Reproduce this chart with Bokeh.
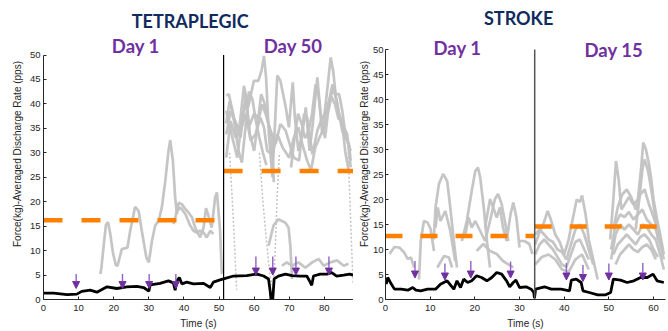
from bokeh.plotting import figure
from bokeh.layouts import row
from bokeh.models import ColumnDataSource, FixedTicker, Arrow, NormalHead, Range1d
from bokeh.core.properties import value
from bokeh.embed import file_html
from bokeh.resources import INLINE

# ------------------------------------------------------------------ data
# TETRAPLEGIC panel
tetra_split = 51.3
tetra_xmax = 88.3
tetra_avg_day1 = 16.2
tetra_avg_day50 = 26.3

tetra_force_x = [0.0, 2.9, 6.7, 9.5, 10.9, 13.3, 15.2, 18.1, 20.9, 23.7, 26.6, 28.5, 30.0, 30.4, 33.2,
                 35.6, 37.0, 37.5, 38.0, 38.7, 39.4, 40.8, 42.7, 45.6, 47.5, 48.4, 50.3, 51.3,
                 54.1, 57.9, 60.8, 62.7, 64.1, 64.6, 64.8, 65.3, 65.7, 66.9, 68.9, 70.8, 73.1, 75.0,
                 76.0, 76.4, 76.9, 78.8, 80.7, 82.1, 83.5, 85.5, 87.2, 88.2]
tetra_force_y = [1.3, 1.3, 1.0, 1.1, 1.66, 1.9, 1.5, 2.6, 2.25, 2.6, 2.7, 2.45, 1.7, 3.0, 3.3,
                 3.8, 3.4, 1.9, 3.8, 4.5, 3.2, 3.55, 3.2, 3.3, 2.45, 3.55, 4.0, 4.2,
                 4.8, 4.9, 5.2, 4.8, 4.2, 1.5, 0.0, 0.0, 4.2, 4.8, 5.2, 4.9, 4.8, 4.8,
                 3.5, 2.9, 4.8, 5.2, 5.2, 5.5, 4.8, 5.0, 5.2, 5.0]

tetra_mu_x = [
    [16.2, 16.5, 17.2, 17.8, 18.4, 19.0, 19.8, 20.6, 21.1, 22.3, 23.9, 24.7, 26.1, 27.1, 28.0, 29.3, 30.0,
     30.9, 31.8, 32.8, 33.7, 34.7, 35.6, 36.1, 36.85, 37.5, 38.0, 38.5, 39.4, 40.4, 41.3, 42.3, 43.2,
     44.6, 45.6, 46.3, 47.0, 47.9, 48.9, 49.4, 50.3, 50.8],
    [37.05, 38.0, 39.0, 40.4, 41.8, 42.7, 43.7, 44.6, 45.6, 46.5, 47.5, 48.4],
    [52.05, 52.8, 54.2, 55.7, 57.1, 58.3, 59.9, 61.2, 62.1, 62.8, 63.4, 64.2, 65.2, 66.6, 67.5, 69.0,
     69.9, 71.0, 71.6, 72.6, 73.7, 74.7, 75.8, 76.7, 78.0, 78.6, 79.4, 80.8, 81.8, 82.5, 83.2, 84.2,
     85.1, 86.1, 87.0, 87.5],
    [52.05, 53.3, 54.7, 56.1, 57.6, 58.5, 59.9, 61.4, 62.3, 63.3, 64.7, 66.1, 67.5, 69.0, 70.4, 71.3,
     72.8, 74.2, 75.1, 76.6, 78.0, 79.4, 80.8, 82.3, 83.7, 85.1, 86.5, 87.5],
    [52.05, 53.3, 54.7, 56.1, 57.6, 59.0, 60.4, 61.8, 62.8, 63.7, 65.2, 66.6, 68.1, 70.0, 71.3, 72.6,
     73.7, 75.1, 76.2, 77.4, 78.6, 80.0, 81.3, 82.8, 84.2, 85.6, 86.5, 87.5],
    [52.05, 53.8, 55.2, 56.6, 57.8, 58.8, 60.0, 61.0, 62.0, 63.0, 64.0, 65.0, 65.6],
    [52.05, 53.0, 54.0, 55.5, 56.5, 57.5, 58.5, 59.5, 60.5, 61.5, 62.5, 63.5],
    [70.5, 71.5, 72.5, 73.5, 74.5, 75.5, 76.5, 77.5, 78.3, 79.2, 80.2, 81.0, 82.0, 83.0, 84.0, 85.0,
     86.0, 87.0],
    [64.1, 65.5, 66.9, 68.9, 69.8, 70.3, 70.8],
    [67.9, 69.3, 70.8, 72.6, 74.6, 76.5, 78.4, 79.8, 81.7, 83.6, 85.5, 86.9],
]
tetra_mu_y = [
    [5.2, 6.5, 11.5, 15.3, 15.8, 13.5, 9.5, 7.0, 6.9, 10.3, 10.6, 14.05, 18.96, 18.1, 14.05, 8.6, 7.6,
     12.0, 15.1, 16.1, 18.8, 24.3, 30.4, 32.6, 28.4, 20.9, 17.5, 19.8, 19.5, 18.5, 17.8, 16.8, 14.7,
     12.7, 14.7, 18.7, 17.1, 14.7, 20.9, 21.9, 14.05, 5.2],
    [15.4, 18.1, 18.8, 17.5, 15.1, 14.05, 13.7, 14.05, 13.7, 12.7, 14.05, 13.4],
    [41.7, 42.0, 37.2, 34.5, 43.7, 39.3, 44.7, 44.7, 46.8, 49.8, 45.4, 33.8, 25.0, 45.8, 44.7, 39.3,
     35.2, 44.4, 37.2, 30.4, 33.8, 39.3, 30.4, 35.9, 45.4, 40.6, 33.8, 42.7, 49.5, 46.8, 42.0, 42.0,
     38.6, 33.1, 31.8, 28.4],
    [33.8, 38.6, 35.9, 33.1, 42.0, 35.2, 37.9, 37.2, 39.9, 37.9, 34.5, 31.8, 35.9, 34.5, 31.1, 29.0,
     28.4, 37.9, 37.2, 29.7, 34.5, 37.2, 38.6, 44.0, 39.9, 34.5, 32.5, 30.4],
    [29.0, 36.5, 33.1, 34.5, 37.9, 32.5, 33.8, 37.2, 35.2, 30.4, 29.7, 33.8, 31.1, 29.0, 33.1, 35.2,
     31.8, 28.4, 26.4, 31.1, 33.1, 35.2, 40.6, 43.4, 37.9, 35.2, 33.8, 27.0],
    [38.6, 33.1, 29.0, 37.2, 40.6, 33.8, 30.4, 35.9, 42.0, 40.0, 36.0, 33.0, 24.0],
    [36.0, 40.5, 38.0, 30.5, 28.0, 35.0, 42.5, 41.0, 36.5, 33.0, 30.0, 27.5],
    [27.0, 33.0, 38.0, 36.0, 33.0, 34.5, 38.0, 44.0, 42.0, 36.0, 33.0, 38.0, 41.5, 40.0, 37.0, 36.5,
     30.0, 26.0],
    [11.0, 15.1, 16.4, 15.7, 14.7, 11.0, 4.2],
    [6.9, 7.6, 6.9, 7.6, 6.5, 7.6, 8.3, 6.9, 7.6, 8.0, 6.9, 7.3],
]
tetra_dot_x = [[53.0, 53.8, 54.5, 55.0], [61.5, 62.5, 63.5, 64.5, 65.0],
               [65.5, 66.0, 66.5, 67.2], [86.8, 87.3, 87.8, 88.2]]
tetra_dot_y = [[30.0, 20.0, 10.0, 2.0], [30.0, 20.0, 12.0, 5.0, 3.0],
               [3.0, 10.0, 20.0, 30.0], [30.0, 20.0, 10.0, 3.0]]

tetra_arrow_x = [9.3, 22.5, 30.1, 37.7, 60.5, 65.3, 71.9, 81.3]
tetra_arrow_top = [5.2, 5.2, 5.2, 5.2, 8.8, 8.8, 8.8, 8.8]
tetra_arrow_tip = [2.25, 2.25, 2.25, 2.25, 5.0, 5.0, 5.0, 5.0]

# STROKE panel
stroke_split = 33.4
stroke_xmax = 62.68
stroke_avg_day1 = 12.7
stroke_avg_day15 = 14.6

stroke_force_x = [0.16, 0.5, 1.1, 2.0, 3.5, 5.0, 6.1, 6.8, 7.9, 9.4, 11.2, 12.3, 13.8, 14.7, 15.3, 16.0,
                  16.8, 17.5, 18.4, 19.3, 20.4, 21.5, 22.7, 23.8, 24.9, 26.0, 27.1, 27.8, 28.6, 29.2,
                  30.0, 31.5, 32.6, 33.2, 33.35, 33.6, 35.6, 37.1, 39.3, 41.2, 41.6, 42.7, 43.8, 44.2,
                  45.6, 47.5, 49.3, 50.4, 51.0, 52.6, 54.1, 55.6, 57.1, 58.6, 59.9, 60.8, 62.3]
stroke_force_y = [3.07, 4.4, 3.4, 2.07, 2.07, 1.87, 2.4, 1.87, 1.74, 2.07, 2.07, 3.07, 3.74, 2.74, 2.07,
                  3.74, 2.4, 4.07, 3.4, 3.74, 4.74, 4.4, 3.74, 4.4, 5.4, 5.07, 3.74, 2.54, 3.4, 3.87,
                  2.4, 2.54, 2.07, 1.4, 0.3, 2.07, 2.54, 2.07, 2.07, 1.74, 3.87, 4.07, 3.4, 1.74,
                  1.4, 0.94, 0.94, 1.4, 4.07, 3.87, 3.4, 3.74, 4.4, 4.4, 5.07, 3.74, 3.4]

stroke_mu_x = [
    [0.9, 2.0, 3.1, 4.2, 4.95, 5.7, 6.4],
    [7.5, 7.9, 8.6, 9.4, 10.1, 10.85],
    [10.8, 11.2, 11.96, 12.9, 13.8, 14.5, 15.3, 16.0],
    [11.2, 11.7, 12.3, 13.4, 14.5, 15.6],
    [11.6, 13.1, 14.2, 14.9],
    [17.1, 18.2, 19.3, 20.1, 20.7, 21.2, 22.0, 22.7, 23.4],
    [17.9, 18.6, 19.3, 20.1, 21.2, 22.3, 23.4, 24.5, 25.2, 26.0, 26.7, 27.5],
    [22.3, 23.4, 24.1, 24.9, 25.6, 26.3, 27.1, 28.0, 28.6, 29.3, 30.0],
    [20.4, 21.9, 23.4, 24.9, 26.3, 28.6],
    [30.0, 31.1, 32.2, 32.9],
    [33.5, 34.5, 35.5, 36.3, 37.0, 38.0, 39.0, 40.0, 41.0, 42.0, 42.8, 43.5, 44.0, 44.8, 45.5, 46.5, 47.5],
    [33.5, 34.5, 35.5, 36.5, 37.5, 38.5, 39.5, 40.5, 41.5, 42.5, 43.5, 44.5, 45.5, 46.5],
    [33.5, 34.5, 35.5, 36.5, 37.5, 38.5, 39.5, 40.5, 41.5, 42.5, 43.5, 44.5, 45.5],
    [33.5, 35.0, 36.5, 38.0, 39.5, 41.0, 42.5, 44.0, 45.5],
    [50.3, 51.0, 51.6, 52.2, 52.8, 53.5, 54.5, 55.5, 56.5, 57.2, 57.7, 58.3, 59.0, 59.5, 60.0, 60.8, 61.5, 62.3],
    [50.5, 51.5, 52.5, 53.5, 54.5, 55.5, 56.5, 57.5, 58.5, 59.5, 60.5, 61.5, 62.3],
    [50.5, 51.5, 52.5, 53.5, 54.5, 55.5, 56.5, 57.5, 58.5, 59.5, 60.5, 61.5, 62.3],
    [51.0, 52.0, 53.0, 54.0, 55.0, 56.0, 57.0, 58.0, 59.0, 60.0, 61.0],
    [51.5, 52.5, 53.5, 54.5, 55.5, 56.5, 57.5, 58.5, 59.5, 60.5],
    [56.0, 56.8, 57.5, 58.0, 58.7, 59.5, 60.3, 61.0],
    [51.0, 52.0, 53.0, 54.0, 55.0, 56.0, 57.0, 58.0, 59.0, 60.0, 61.0, 62.0],
]
stroke_mu_y = [
    [9.1, 10.5, 10.4, 9.4, 8.1, 8.4, 6.4],
    [4.0, 11.7, 15.7, 15.4, 14.1, 9.7],
    [12.0, 18.4, 23.1, 25.1, 23.7, 18.4, 11.7, 6.4],
    [14.4, 18.4, 15.7, 17.7, 13.7, 7.7],
    [6.4, 8.7, 8.4, 6.4],
    [11.7, 15.7, 21.7, 25.7, 26.4, 24.4, 18.4, 11.7, 6.4],
    [13.1, 16.4, 14.4, 15.7, 13.7, 11.7, 15.7, 20.1, 21.1, 19.1, 15.7, 11.7],
    [14.4, 20.1, 18.4, 16.4, 18.4, 14.4, 11.7, 17.1, 19.4, 16.4, 10.4],
    [9.7, 11.1, 9.7, 9.1, 7.7, 6.4],
    [11.7, 11.7, 11.1, 9.1],
    [11.0, 13.5, 15.5, 17.7, 16.0, 13.0, 11.5, 9.0, 12.0, 16.5, 20.0, 19.5, 20.8, 17.0, 12.0, 8.0, 4.0],
    [13.0, 14.0, 13.0, 12.0, 11.5, 10.0, 9.5, 8.0, 11.0, 14.0, 15.0, 13.0, 10.0, 7.0],
    [9.0, 11.0, 12.0, 11.0, 10.0, 8.5, 7.0, 6.5, 9.0, 11.5, 12.0, 10.0, 8.0],
    [7.0, 8.5, 9.0, 8.0, 6.0, 5.5, 8.0, 9.0, 6.0],
    [12.0, 20.0, 27.7, 24.0, 18.0, 19.0, 20.5, 19.0, 20.0, 26.0, 31.4, 30.0, 27.0, 24.0, 20.0, 16.0, 13.0, 9.0],
    [10.0, 15.0, 17.0, 16.5, 17.5, 16.0, 17.0, 18.0, 16.0, 15.0, 14.0, 11.0, 8.0],
    [8.0, 13.0, 15.0, 14.0, 15.0, 14.0, 13.0, 15.0, 14.5, 13.0, 12.0, 9.0, 6.0],
    [9.0, 11.0, 12.0, 13.0, 12.0, 11.0, 12.5, 13.0, 12.0, 10.0, 8.5],
    [7.0, 9.0, 10.0, 11.0, 10.0, 9.5, 10.5, 11.0, 10.0, 8.0],
    [14.0, 20.0, 26.0, 28.0, 26.0, 22.0, 17.0, 12.0],
    [14.0, 18.5, 21.0, 22.0, 20.5, 18.0, 21.0, 22.0, 19.0, 16.5, 14.0, 10.0],
]

stroke_arrow_x = [6.6, 13.3, 19.1, 28.0, 40.5, 44.2, 50.0, 57.6]
stroke_arrow_top = [7.7, 7.2, 7.7, 7.6, 7.3, 6.9, 7.2, 7.3]
stroke_arrow_tip = [4.3, 3.9, 4.3, 4.3, 3.9, 3.6, 3.9, 3.9]

y_ticks = [0, 5, 10, 15, 20, 25, 30, 35, 40, 45, 50]
tetra_x_ticks = [0, 10, 20, 30, 40, 50, 60, 70, 80]
stroke_x_ticks = [0, 10, 20, 30, 40, 50, 60]
y_label = "Force(kg)-Averaged Discharge Rate (pps)"

# ------------------------------------------------------------------ style
GRAY = "#c2c2c2"
ORANGE = "#ff8000"
PURPLE = "#7030a0"
SHAFT = "#8f62c4"
NAVY = "#102b5e"
AX = "#262626"
TITLE_FONT = "Lato"
TICK_FONT = "Liberation Sans"


def style_axes(p, xticks, tick_standoff, label_standoff):
    for ax in (p.xaxis[0], p.yaxis[0]):
        ax.axis_line_color = AX
        ax.major_tick_line_color = AX
        ax.major_tick_in = 3
        ax.major_tick_out = 0
        ax.minor_tick_line_color = None
        ax.major_label_text_font = TICK_FONT
        ax.major_label_text_font_size = "9.5px"
        ax.major_label_text_color = AX
        ax.axis_label_text_font = TICK_FONT
        ax.axis_label_text_font_size = "10px"
        ax.axis_label_text_font_style = "normal"
        ax.axis_label_text_color = AX
    p.xaxis.ticker = FixedTicker(ticks=xticks)
    p.yaxis.ticker = FixedTicker(ticks=y_ticks)
    p.yaxis.bounds = (0, 50)
    p.xaxis.major_label_standoff = 5
    p.yaxis.major_label_standoff = tick_standoff
    p.xaxis.axis_label_standoff = 4
    p.yaxis.axis_label_standoff = label_standoff
    p.xaxis.axis_label = "Time (s)"
    p.yaxis.axis_label = y_label
    p.xgrid.visible = False
    p.ygrid.visible = False
    p.outline_line_color = None


def make_panel(fw, border_left, border_right, xmax, ymax, xticks, tick_standoff, label_standoff):
    p = figure(frame_width=fw, frame_height=291, min_border_left=border_left,
               min_border_right=border_right, min_border_top=8, min_border_bottom=32,
               x_range=Range1d(0, xmax), y_range=Range1d(0, ymax),
               output_backend="svg", toolbar_location=None)
    style_axes(p, xticks, tick_standoff, label_standoff)
    return p


def draw(p, mu_x, mu_y, force_x, force_y, split, xmax, avg1, avg2, dash,
         ax_x, ax_top, ax_tip, split_color, split_width):
    p.multi_line(xs=mu_x, ys=mu_y, line_color=GRAY, line_width=2.7, line_alpha=0.95)
    p.segment(x0=[0, split], y0=[avg1, avg2], x1=[split, xmax], y1=[avg1, avg2],
              line_color=ORANGE, line_width=4.5, line_dash=dash)
    p.line(force_x, force_y, line_color="black", line_width=2.8)
    p.segment(x0=[split], y0=[0], x1=[split], y1=[50], line_color=split_color, line_width=split_width)
    src = ColumnDataSource(dict(x=ax_x, top=ax_top, tip=ax_tip))
    p.add_layout(Arrow(end=NormalHead(size=7, fill_color=PURPLE, line_color=PURPLE, line_width=1),
                       x_start="x", y_start="top", x_end="x", y_end="tip", source=src,
                       line_color=SHAFT, line_width=1.4))


# ---- TETRAPLEGIC
p1 = make_panel(310, 43, 0, tetra_xmax, 291 / 4.89, tetra_x_ticks, 3, 4)
p1.multi_line(xs=tetra_dot_x, ys=tetra_dot_y, line_color=GRAY, line_width=1.5, line_dash="2 2")
draw(p1, tetra_mu_x, tetra_mu_y, tetra_force_x, tetra_force_y, tetra_split, tetra_xmax,
     tetra_avg_day1, tetra_avg_day50, "19 19", tetra_arrow_x, tetra_arrow_top, tetra_arrow_tip,
     "black", 1.2)
p1.text(x=[41.8], y=[57.0], text=["TETRAPLEGIC"], text_font=value(TITLE_FONT), text_font_style="bold",
        text_font_size="18px", text_color=NAVY, text_align="center", text_baseline="middle")
p1.text(x=[26.3, 71.1], y=[51.9, 51.9], text=["Day 1", "Day 50"], text_font=value(TITLE_FONT),
        text_font_style="bold", text_font_size="18.5px", text_color=PURPLE, text_align="center",
        text_baseline="middle")

# ---- STROKE
p2 = make_panel(280, 32, 3, stroke_xmax, 291 / 5.0, stroke_x_ticks, 2, 0)
draw(p2, stroke_mu_x, stroke_mu_y, stroke_force_x, stroke_force_y, stroke_split, stroke_xmax,
     stroke_avg_day1, stroke_avg_day15, "17 18", stroke_arrow_x, stroke_arrow_top, stroke_arrow_tip,
     "#555555", 1.5)
p2.text(x=[29.8], y=[56.4], text=["STROKE"], text_font=value(TITLE_FONT), text_font_style="bold",
        text_font_size="18px", text_color=NAVY, text_align="center", text_baseline="middle")
p2.text(x=[16.1, 51.1], y=[50.4, 49.9], text=["Day 1", "Day 15"], text_font=value(TITLE_FONT),
        text_font_style="bold", text_font_size="18.5px", text_color=PURPLE, text_align="center",
        text_baseline="middle")

layout = row(p1, p2)
open("out.html", "w").write(file_html(layout, INLINE))
